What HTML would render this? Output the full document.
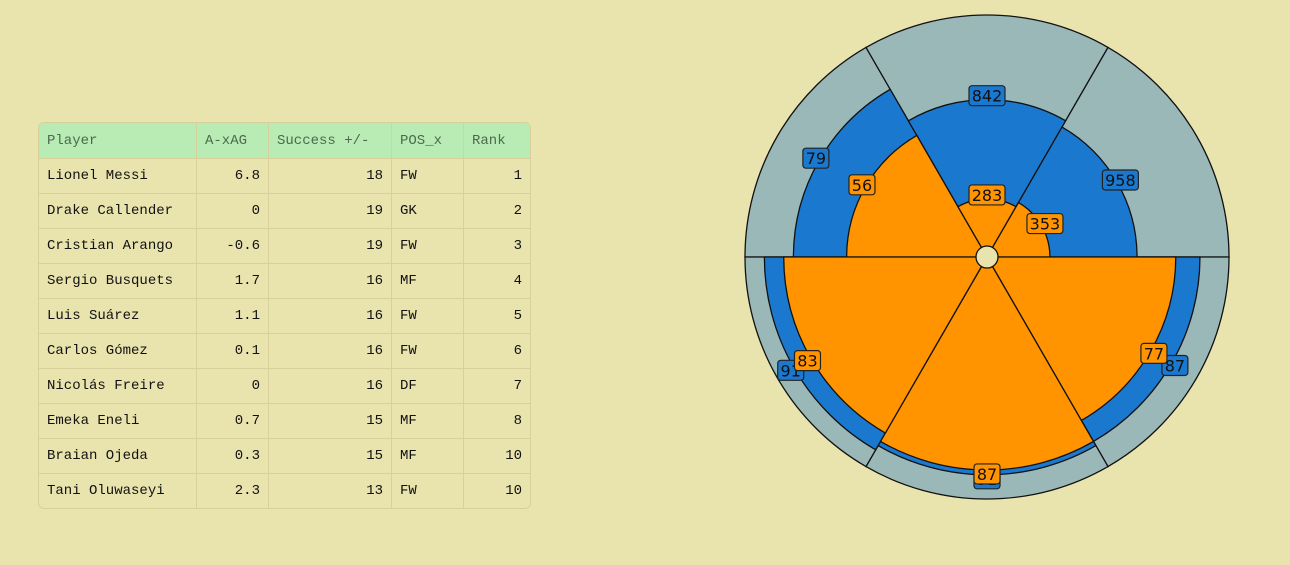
<!DOCTYPE html>
<html><head><meta charset="utf-8"><style>
body{margin:0;width:1290px;height:565px;background:#e9e3ae;overflow:hidden;position:relative;font-family:"Liberation Mono","DejaVu Sans Mono",monospace}
table{position:absolute;left:38px;top:122px;width:493px;border-collapse:separate;border-spacing:0;border:1px solid #d8d09a;border-radius:6px;overflow:hidden;font-size:14px}
td,th{height:34px;padding:0 8px;border-right:1px solid #d8d09a;border-bottom:1px solid #d8d09a;color:#111;white-space:nowrap}
th{background:#b8ecb4;font-weight:normal;color:#4c6a4c;text-align:left;height:35px}
tr:last-child td{border-bottom:none}
td:last-child,th:last-child{border-right:none}
.n{text-align:right}
svg{position:absolute;left:0;top:0}
</style></head><body>
<table>
<thead><tr><th style="width:141px">Player</th><th style="width:55px">A-xAG</th><th style="width:106px">Success +/-</th><th style="width:55px">POS_x</th><th>Rank</th></tr></thead>
<tbody>
<tr><td>Lionel Messi</td><td class="n">6.8</td><td class="n">18</td><td>FW</td><td class="n">1</td></tr>
<tr><td>Drake Callender</td><td class="n">0</td><td class="n">19</td><td>GK</td><td class="n">2</td></tr>
<tr><td>Cristian Arango</td><td class="n">-0.6</td><td class="n">19</td><td>FW</td><td class="n">3</td></tr>
<tr><td>Sergio Busquets</td><td class="n">1.7</td><td class="n">16</td><td>MF</td><td class="n">4</td></tr>
<tr><td>Luis Suárez</td><td class="n">1.1</td><td class="n">16</td><td>FW</td><td class="n">5</td></tr>
<tr><td>Carlos Gómez</td><td class="n">0.1</td><td class="n">16</td><td>FW</td><td class="n">6</td></tr>
<tr><td>Nicolás Freire</td><td class="n">0</td><td class="n">16</td><td>DF</td><td class="n">7</td></tr>
<tr><td>Emeka Eneli</td><td class="n">0.7</td><td class="n">15</td><td>MF</td><td class="n">8</td></tr>
<tr><td>Braian Ojeda</td><td class="n">0.3</td><td class="n">15</td><td>MF</td><td class="n">10</td></tr>
<tr><td>Tani Oluwaseyi</td><td class="n">2.3</td><td class="n">13</td><td>FW</td><td class="n">10</td></tr>
</tbody></table>
<svg id="chart" width="1290" height="565"></svg>
<script>
// slices ordered from angle 180° (left) counter-clockwise through top to bottom
const slices = ["s1","s2","s3","s4","s5","s6"];
const blueValues = [79, 842, 958, 87, 91, 91];
const bluePct = [80, 65, 62, 88, 90, 92];
const orangeValues = [56, 283, 353, 77, 87, 83];
const orangePct = [58, 24, 26, 78, 88, 84];
const startAngles = [120, 60, 0, 300, 240, 180];

const cx=987, cy=257, R=242;
const svg=document.getElementById('chart');
const NS='http://www.w3.org/2000/svg';
const rScale=p=>p/100*R;
function pt(r,a){const t=a*Math.PI/180;return [cx+r*Math.cos(t), cy-r*Math.sin(t)];}
function wedge(r,a0,a1,fill,name){
  const p0=pt(r,a0),p1=pt(r,a1);
  const d=`M${cx},${cy}L${p0[0]},${p0[1]}A${r},${r} 0 0 0 ${p1[0]},${p1[1]}Z`;
  const e=document.createElementNS(NS,'path');
  e.setAttribute('d',d);e.setAttribute('fill',fill);e.setAttribute('stroke','#111');e.setAttribute('stroke-width','1.3');
  
  
  svg.appendChild(e);
}
function label(v,r,a,fill,name){
  const p=pt(r,a);
  const g=document.createElementNS(NS,'g');
  
  
  const s=String(v), w=s.length*10+6;
  const rc=document.createElementNS(NS,'rect');
  rc.setAttribute('x',p[0]-w/2);rc.setAttribute('y',p[1]-10);rc.setAttribute('width',w);rc.setAttribute('height',20);
  rc.setAttribute('rx',3);rc.setAttribute('fill',fill);rc.setAttribute('stroke','#222');rc.setAttribute('stroke-width','1.2');
  const t=document.createElementNS(NS,'text');
  t.setAttribute('x',p[0]);t.setAttribute('y',p[1]+6);t.setAttribute('text-anchor','middle');
  t.setAttribute('font-family','"DejaVu Sans","Liberation Sans",sans-serif');t.setAttribute('font-size','16');t.setAttribute('fill','#111');
  t.textContent=s;
  g.appendChild(rc);g.appendChild(t);svg.appendChild(g);
}
slices.forEach((s,i)=>wedge(R,startAngles[i],startAngles[i]+60,'#9bb8b9','bg-wedge-'+s));
slices.forEach((s,i)=>wedge(rScale(bluePct[i]),startAngles[i],startAngles[i]+60,'#1b78cf','blue-wedge-'+s));
slices.forEach((s,i)=>wedge(rScale(orangePct[i]),startAngles[i],startAngles[i]+60,'#ff9400','orange-wedge-'+s));
slices.forEach((s,i)=>label(blueValues[i],rScale(bluePct[i])+4,startAngles[i]+30,'#1b78cf','blue-label-'+s));
slices.forEach((s,i)=>label(orangeValues[i],rScale(orangePct[i])+4,startAngles[i]+30,'#ff9400','orange-label-'+s));
const c=document.createElementNS(NS,'circle');
c.setAttribute('cx',cx);c.setAttribute('cy',cy);c.setAttribute('r',11);c.setAttribute('fill','#e9e3ae');c.setAttribute('stroke','#111');c.setAttribute('stroke-width','1.3');


svg.appendChild(c);
</script>
</body></html>
